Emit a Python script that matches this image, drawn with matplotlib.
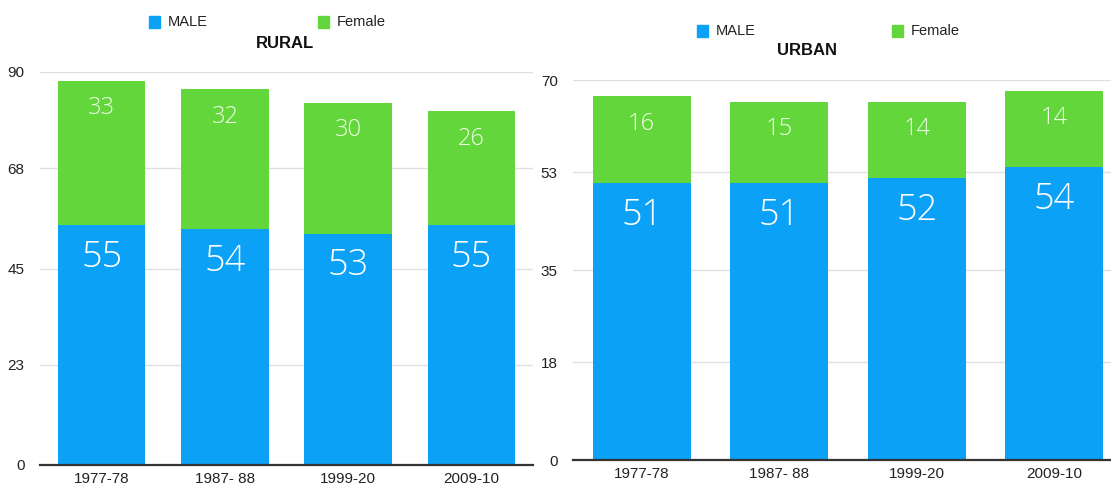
import matplotlib
matplotlib.use("Agg")
import matplotlib.pyplot as plt
from matplotlib.patches import Rectangle

categories = ["1977-78", "1987- 88", "1999-20", "2009-10"]
rural_male = [55, 54, 53, 55]
rural_female = [33, 32, 30, 26]
urban_male = [51, 51, 52, 54]
urban_female = [16, 15, 14, 14]
rural_ticks = [0, 23, 45, 68, 90]
urban_ticks = [0, 18, 35, 53, 70]

BLUE = "#0AA1F6"
GREEN = "#62D63A"
plt.rcParams['font.family'] = ['Liberation Sans', 'DejaVu Sans']

fig = plt.figure(figsize=(11.11, 4.91), dpi=100)

def panel(rect, male, female, ticks, title, leg_pos, title_y):
    ax = fig.add_axes(rect)
    x = list(range(len(categories)))
    ax.bar(x, male, width=0.71, color=BLUE, zorder=2)
    ax.bar(x, female, width=0.71, bottom=male, color=GREEN, zorder=2)
    for xi, m, f in zip(x, male, female):
        ax.annotate(str(m), (xi, m), xytext=(0, -10), textcoords='offset points',
                    ha='center', va='top', color='white', fontsize=26,
                    family=['Open Sans', 'DejaVu Sans'], fontweight='light', zorder=3)
        ax.annotate(str(f), (xi, m + f), xytext=(0, -11), textcoords='offset points',
                    ha='center', va='top', color='#F0FFE8', fontsize=17,
                    family=['Open Sans', 'DejaVu Sans'], fontweight='light', zorder=3)
    ax.set_xlim(-0.5, len(categories) - 0.5)
    ax.set_ylim(ticks[0], ticks[-1])
    ax.set_yticks(ticks)
    ax.set_yticklabels([str(t) for t in ticks])
    ax.set_xticks(x)
    ax.set_xticklabels(categories)
    ax.tick_params(axis='both', length=0, labelsize=11, colors='#222222')
    ax.tick_params(axis='y', pad=11)
    ax.tick_params(axis='x', pad=5)
    for s in ax.spines.values():
        s.set_visible(False)
    ax.yaxis.grid(True, color='#E0E0E0', linewidth=1, zorder=0)
    ax.axhline(0, color='#333333', linewidth=1.6, zorder=4, clip_on=False)
    ax.set_axisbelow(True)
    # legend
    (mx, my), (fx, fy) = leg_pos
    for (lx, ly), col, lab in [((mx, my), BLUE, "MALE"), ((fx, fy), GREEN, "Female")]:
        fig.patches.append(Rectangle((lx / 1111, 1 - (ly + 5.5) / 491), 11 / 1111, 11 / 491,
                                     transform=fig.transFigure, color=col, figure=fig))
        fig.text((lx + 19) / 1111, 1 - ly / 491, lab, fontsize=10.5, va='center', ha='left',
                 color='#222222')
    fig.text(title_y[0] / 1111, 1 - title_y[1] / 491, title, fontsize=12, fontweight='bold',
             ha='center', va='center', color='#111111')
    return ax

panel([40 / 1111, 1 - 465 / 491, 493 / 1111, 393 / 491], rural_male, rural_female,
      rural_ticks, "RURAL", ((149, 22), (318, 22)), (285, 43))
panel([573 / 1111, 1 - 460 / 491, 550 / 1111, 380 / 491], urban_male, urban_female,
      urban_ticks, "URBAN", ((697, 31), (892, 31)), (807, 50))

fig.savefig("out.png", dpi=100)
